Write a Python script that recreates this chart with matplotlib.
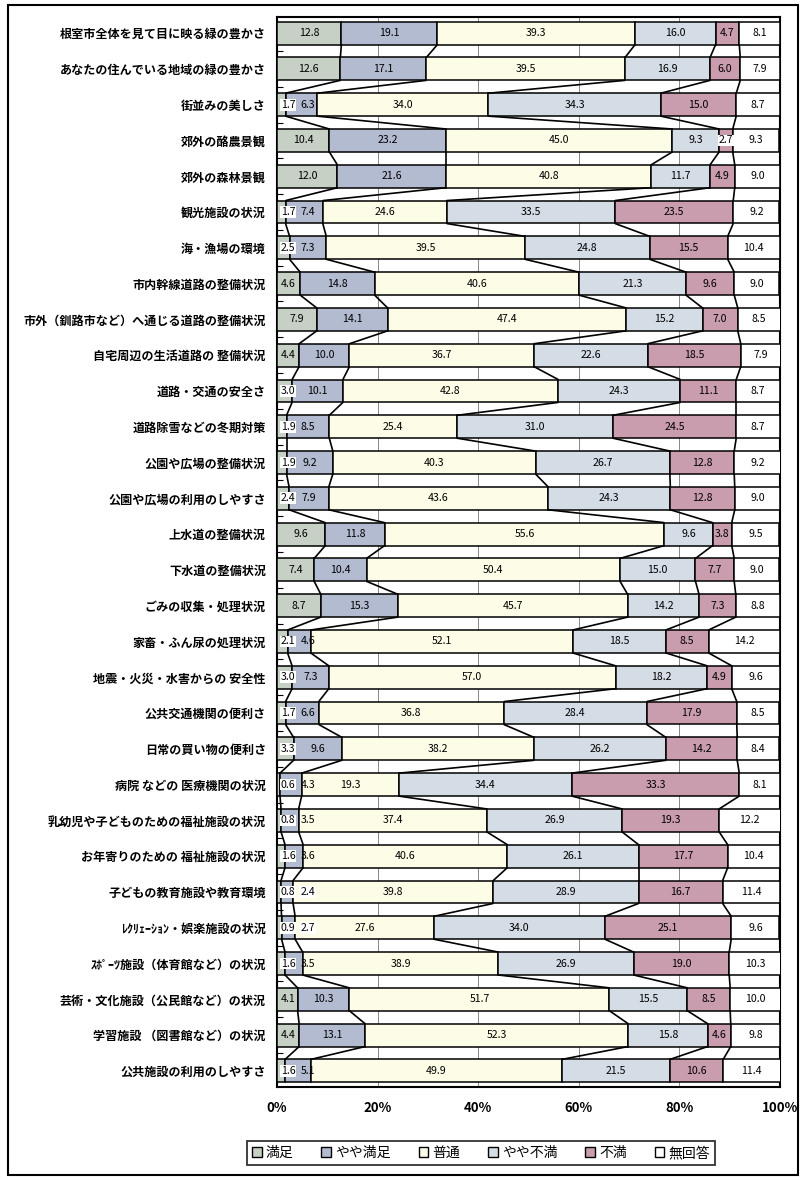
import matplotlib.pyplot as plt
from matplotlib import font_manager
from matplotlib.patches import Patch, Rectangle
import numpy as np

# 満足度調査：項目別の回答構成比（%）

items = [
    "根室市全体を見て目に映る緑の豊かさ",
    "あなたの住んでいる地域の緑の豊かさ",
    "街並みの美しさ",
    "郊外の酪農景観",
    "郊外の森林景観",
    "観光施設の状況",
    "海・漁場の環境",
    "市内幹線道路の整備状況",
    "市外（釧路市など）へ通じる道路の整備状況",
    "自宅周辺の生活道路の 整備状況",
    "道路・交通の安全さ",
    "道路除雪などの冬期対策",
    "公園や広場の整備状況",
    "公園や広場の利用のしやすさ",
    "上水道の整備状況",
    "下水道の整備状況",
    "ごみの収集・処理状況",
    "家畜・ふん尿の処理状況",
    "地震・火災・水害からの 安全性",
    "公共交通機関の便利さ",
    "日常の買い物の便利さ",
    "病院 などの 医療機関の状況",
    "乳幼児や子どものための福祉施設の状況",
    "お年寄りのための 福祉施設の状況",
    "子どもの教育施設や教育環境",
    "ﾚｸﾘｪｰｼｮﾝ・娯楽施設の状況",
    "ｽﾎﾟｰﾂ施設（体育館など）の状況",
    "芸術・文化施設（公民館など）の状況",
    "学習施設 （図書館など）の状況",
    "公共施設の利用のしやすさ",
]

answers = ["満足", "やや満足", "普通", "やや不満", "不満", "無回答"]

manzoku = [12.8, 12.6, 1.7, 10.4, 12.0, 1.7, 2.5, 4.6, 7.9, 4.4,
           3.0, 1.9, 1.9, 2.4, 9.6, 7.4, 8.7, 2.1, 3.0, 1.7,
           3.3, 0.6, 0.8, 1.6, 0.8, 0.9, 1.6, 4.1, 4.4, 1.6]
yaya_manzoku = [19.1, 17.1, 6.3, 23.2, 21.6, 7.4, 7.3, 14.8, 14.1, 10.0,
                10.1, 8.5, 9.2, 7.9, 11.8, 10.4, 15.3, 4.6, 7.3, 6.6,
                9.6, 4.3, 3.5, 3.6, 2.4, 2.7, 3.5, 10.3, 13.1, 5.1]
futsu = [39.3, 39.5, 34.0, 45.0, 40.8, 24.6, 39.5, 40.6, 47.4, 36.7,
         42.8, 25.4, 40.3, 43.6, 55.6, 50.4, 45.7, 52.1, 57.0, 36.8,
         38.2, 19.3, 37.4, 40.6, 39.8, 27.6, 38.9, 51.7, 52.3, 49.9]
yaya_fuman = [16.0, 16.9, 34.3, 9.3, 11.7, 33.5, 24.8, 21.3, 15.2, 22.6,
              24.3, 31.0, 26.7, 24.3, 9.6, 15.0, 14.2, 18.5, 18.2, 28.4,
              26.2, 34.4, 26.9, 26.1, 28.9, 34.0, 26.9, 15.5, 15.8, 21.5]
fuman = [4.7, 6.0, 15.0, 2.7, 4.9, 23.5, 15.5, 9.6, 7.0, 18.5,
         11.1, 24.5, 12.8, 12.8, 3.8, 7.7, 7.3, 8.5, 4.9, 17.9,
         14.2, 33.3, 19.3, 17.7, 16.7, 25.1, 19.0, 8.5, 4.6, 10.6]
mukaito = [8.1, 7.9, 8.7, 9.3, 9.0, 9.2, 10.4, 9.0, 8.5, 7.9,
           8.7, 8.7, 9.2, 9.0, 9.5, 9.0, 8.8, 14.2, 9.6, 8.5,
           8.4, 8.1, 12.2, 10.4, 11.4, 9.6, 10.3, 10.0, 9.8, 11.4]

colors = ["#c6d0c4", "#b3bbd0", "#fdfce6", "#d4dde6", "#c99cae", "#ffffff"]

# fonts
jp = ["Noto Sans CJK JP", "DejaVu Sans"]
installed = {f.name for f in font_manager.fontManager.ttflist}
num_font = ["Liberation Sans Narrow", "Noto Sans CJK JP"] if "Liberation Sans Narrow" in installed else jp
plt.rcParams["font.family"] = jp

series = [manzoku, yaya_manzoku, futsu, yaya_fuman, fuman, mukaito]
data = np.array(series).T          # rows = items, cols = answers
n = len(items)
y = np.arange(n)
bar_h = 0.64

fig = plt.figure(figsize=(8.04, 11.8), dpi=100)
W, H = 804, 1180
ax = fig.add_axes([277 / W, 1 - 1087 / H, (780 - 277) / W, (1087 - 17) / H])

left = np.zeros(n)
for j, vals in enumerate(data.T):
    ax.barh(y, vals, left=left, height=bar_h, color=colors[j],
            edgecolor="black", linewidth=1.1, zorder=3)
    left += vals

# series lines between neighbouring bars
cum = np.cumsum(data, axis=1)
for j in range(5):
    for i in range(n - 1):
        ax.plot([cum[i, j], cum[i + 1, j]],
                [i + bar_h / 2, i + 1 - bar_h / 2],
                color="black", lw=1.2, zorder=4, solid_capstyle="butt")

# value labels
def label_width(v):
    return 3.4 if v < 10 else 4.4

for i in range(n):
    start = 0.0
    prev_end = 0.0
    for j in range(6):
        v = data[i, j]
        w = label_width(v)
        xc = start + v / 2
        xc = max(xc, prev_end + 0.5 + w / 2, 0.3 + w / 2)
        box = None
        if v < 3.5:
            box = dict(facecolor="white", edgecolor="none", pad=0.6)
        ax.text(xc, i, f"{v:.1f}", ha="center", va="center", fontsize=7.6,
                family=num_font, zorder=6, bbox=box)
        prev_end = xc + w / 2
        start += v

ax.set_xlim(0, 100)
ax.set_ylim(n - 1 + 0.45, -0.45)
ax.set_xticks(np.arange(0, 101, 20))
ax.set_xticklabels([f"{t}%" for t in range(0, 101, 20)], fontsize=9.5,
                   family=num_font, fontweight="bold")
ax.tick_params(axis="x", length=0, pad=10)
ax.xaxis.grid(True, color="#888888", lw=0.7, zorder=0)

ax.set_yticks(y)
ax.set_yticklabels(items, fontsize=8.7, fontweight="bold")
ax.tick_params(axis="y", length=0, pad=8)
ax.set_yticks(np.arange(n - 1) + 0.5, minor=True)
ax.tick_params(axis="y", which="minor", direction="in", length=4, width=0.8)

for s in ax.spines.values():
    s.set_linewidth(1.5)

# outer frame
fig.patches.append(Rectangle((8 / W, 1 - 1175 / H), 790 / W, 1170 / H,
                             transform=fig.transFigure, fill=False,
                             edgecolor="black", lw=1.5))

handles = [Patch(facecolor=c, edgecolor="black", lw=1.0) for c in colors]
leg = fig.legend(handles, answers, loc="center",
                 bbox_to_anchor=(481 / W, 1 - 1153 / H), ncol=6,
                 fontsize=10, frameon=True, fancybox=False,
                 handlelength=0.7, handleheight=0.7, handletextpad=0.3,
                 columnspacing=2.0, borderpad=0.35)
leg.get_frame().set_edgecolor("black")
leg.get_frame().set_linewidth(1.3)

fig.savefig("out.png", dpi=100)
